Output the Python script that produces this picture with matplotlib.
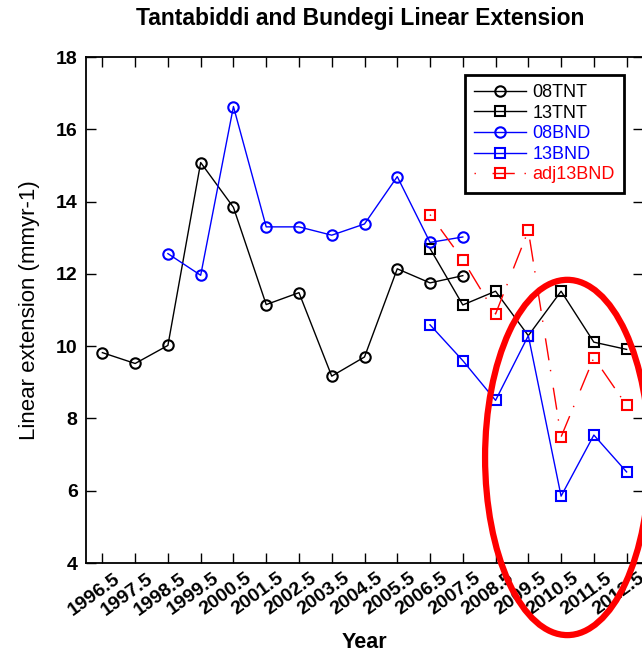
import matplotlib
matplotlib.use("Agg")
import matplotlib.pyplot as plt
from matplotlib.patches import Ellipse
from matplotlib.transforms import IdentityTransform, ScaledTranslation
import numpy as np

# Data ---------------------------------------------------------------
years = [1996.5, 1997.5, 1998.5, 1999.5, 2000.5, 2001.5, 2002.5, 2003.5,
         2004.5, 2005.5, 2006.5, 2007.5, 2008.5, 2009.5, 2010.5, 2011.5,
         2012.5]
tick_labels = [str(y) for y in years]

yrs_08tnt = years[0:12]
val_08tnt = [9.82, 9.52, 10.02, 15.08, 13.84, 11.15, 11.48, 9.17, 9.70,
             12.14, 11.75, 11.95]

yrs_08bnd = years[2:12]
val_08bnd = [12.56, 11.96, 16.63, 13.30, 13.30, 13.07, 13.38, 14.69,
             12.87, 13.02]

yrs_13 = years[10:]
val_13tnt = [12.70, 11.14, 11.52, 10.29, 11.52, 10.11, 9.91]
val_13bnd = [10.59, 9.60, 8.50, 10.29, 5.85, 7.54, 6.52]
val_adj13bnd = [13.64, 12.39, 10.89, 13.20, 7.49, 9.68, 8.36]

# Plot ---------------------------------------------------------------
plt.rcParams['font.family'] = ['Liberation Sans', 'DejaVu Sans']

fig = plt.figure(figsize=(6.42, 6.53), dpi=100)
ax = fig.add_axes([86/642, 90/653, 557/642, 506/653])

mk = dict(markersize=7.5, markerfacecolor='none', markeredgewidth=1.5)

ax.plot(yrs_08tnt, val_08tnt, color='black', lw=1, marker='o',
        label='08TNT', **mk)
ax.plot(yrs_13, val_13tnt, color='black', lw=1, marker='s',
        label='13TNT', **mk)
ax.plot(yrs_08bnd, val_08bnd, color='#0000ff', lw=1, marker='o',
        label='08BND', **mk)
ax.plot(yrs_13, val_13bnd, color='#0000ff', lw=1, marker='s',
        label='13BND', **mk)
ax.plot(yrs_13, val_adj13bnd, color='#ff0000', lw=1, marker='s',
        linestyle=(0, (1, 12, 16, 7)), label='adj13BND', **mk)

ax.set_xlim(1996, 2013)
ax.set_ylim(4, 18)
ax.set_xticks(years)
ax.set_xticklabels(tick_labels, rotation=36, ha='right', va='top',
                   rotation_mode='anchor', fontsize=14, fontweight='bold')
ax.set_yticks(np.arange(4, 19, 2))
ax.set_yticklabels([str(v) for v in range(4, 19, 2)], fontsize=14,
                   fontweight='bold')
ax.tick_params(direction='in', length=7, width=1, top=True, right=True,
               pad=6)
ax.tick_params(axis='x', pad=5)
shift = ScaledTranslation(8/72, 0, fig.dpi_scale_trans)
for lab in ax.get_xticklabels():
    lab.set_transform(lab.get_transform() + shift)
for s in ax.spines.values():
    s.set_linewidth(1.3)

ax.set_xlabel('Year', fontsize=15.5, fontweight='bold')
ax.xaxis.set_label_coords(0.5, (563 - 632) / 506)
ax.set_ylabel('Linear extension (mmyr-1)', fontsize=16)
ax.yaxis.set_label_coords((40 - 86) / 557, 0.5)

fig.text(360/642, 1 - 18/653, 'Tantabiddi and Bundegi Linear Extension',
         ha='center', va='center', fontsize=16.5, fontweight='bold')

# legend placed in figure pixels (upper right corner of the box)
leg = ax.legend(loc='upper right', bbox_to_anchor=(624, 653 - 75),
                bbox_transform=IdentityTransform(),
                fontsize=13, labelcolor='linecolor', fancybox=False,
                edgecolor='black', framealpha=1, labelspacing=0.2,
                handlelength=2.9, handletextpad=0.35, borderpad=0.5,
                borderaxespad=0)
leg.get_frame().set_linewidth(2)

# Red highlight ellipse
ell = Ellipse((2010.69, 6.92), 5.02, 9.83, fill=False, edgecolor='#ff0000',
              lw=4.5, clip_on=False, zorder=10)
ax.add_patch(ell)

fig.savefig("out.png", dpi=100)
